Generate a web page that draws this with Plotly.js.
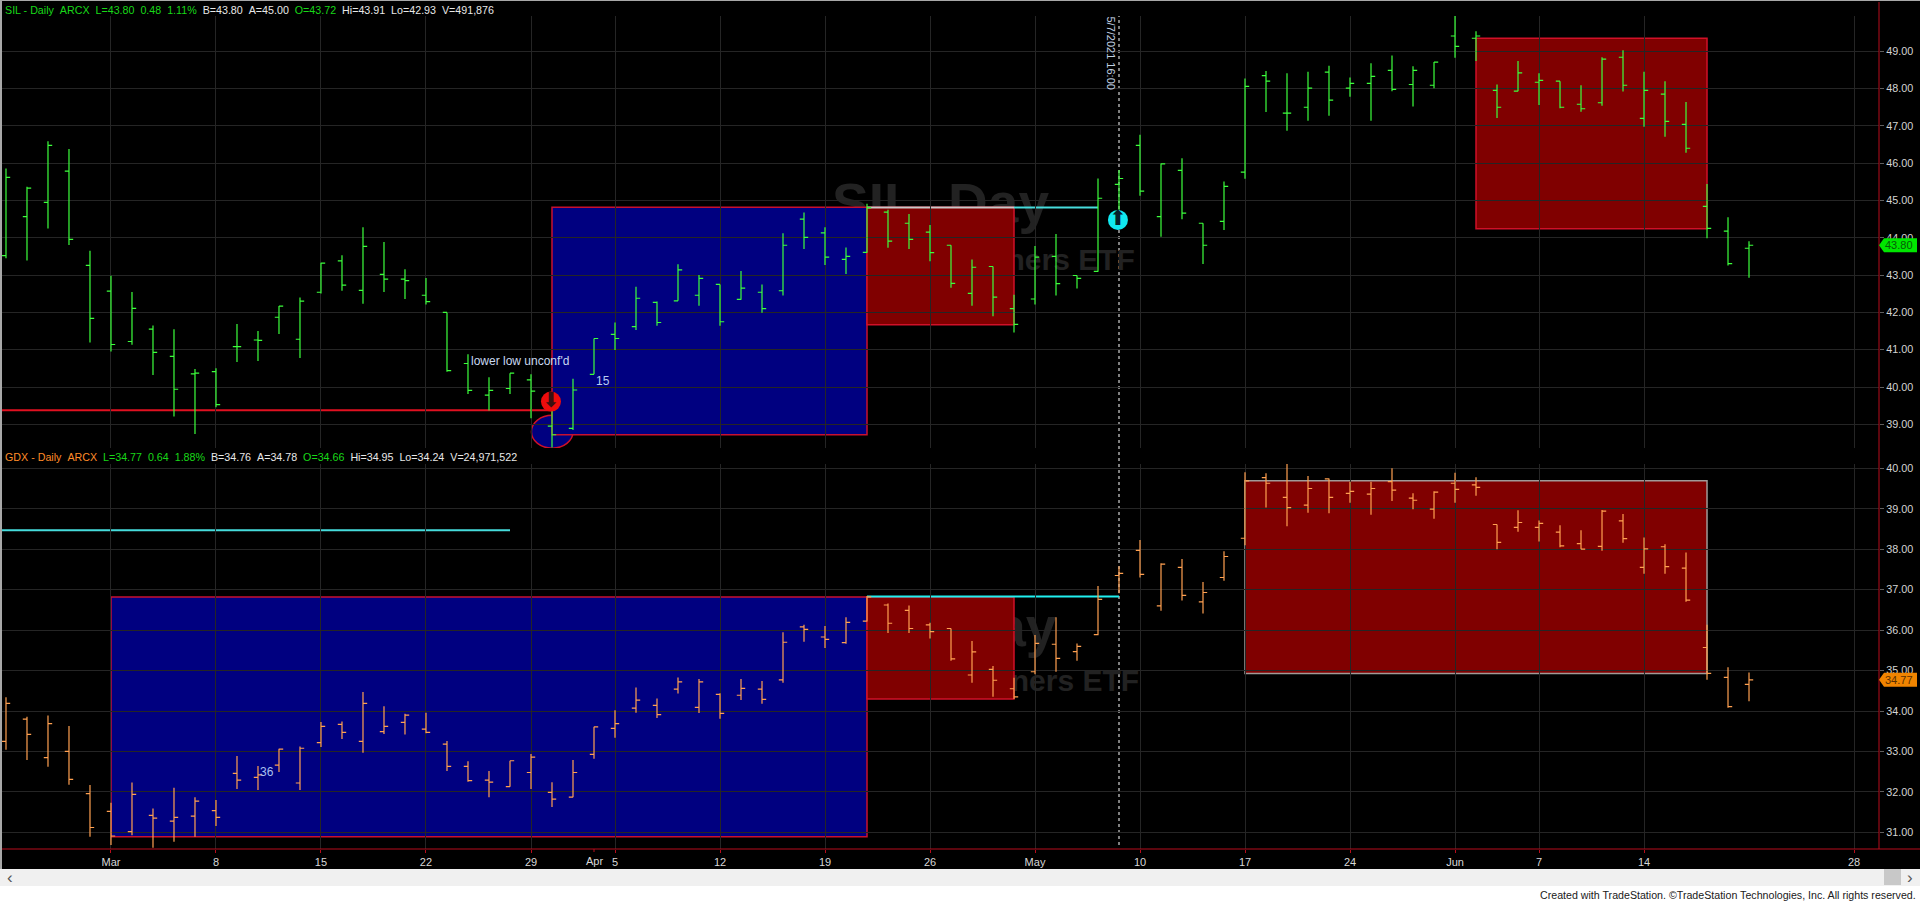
<!DOCTYPE html>
<html>
<head>
<meta charset="utf-8">
<script src="https://cdn.plot.ly/plotly-3.0.1.min.js"></script>
<style>html,body{margin:0;padding:0;background:#000;overflow:hidden}#chart{width:1920px;height:901px}</style>
</head>
<body>
<div id="chart"></div>
<script>
// Trading sessions shown on the axis (bars exist up to 2021-06-21)
const sessionDates = [
 '2021-02-22','2021-02-23','2021-02-24','2021-02-25','2021-02-26',
 '2021-03-01','2021-03-02','2021-03-03','2021-03-04','2021-03-05',
 '2021-03-08','2021-03-09','2021-03-10','2021-03-11','2021-03-12',
 '2021-03-15','2021-03-16','2021-03-17','2021-03-18','2021-03-19',
 '2021-03-22','2021-03-23','2021-03-24','2021-03-25','2021-03-26',
 '2021-03-29','2021-03-30','2021-03-31','2021-04-01','2021-04-05',
 '2021-04-06','2021-04-07','2021-04-08','2021-04-09','2021-04-12',
 '2021-04-13','2021-04-14','2021-04-15','2021-04-16','2021-04-19',
 '2021-04-20','2021-04-21','2021-04-22','2021-04-23','2021-04-26',
 '2021-04-27','2021-04-28','2021-04-29','2021-04-30','2021-05-03',
 '2021-05-04','2021-05-05','2021-05-06','2021-05-07','2021-05-10',
 '2021-05-11','2021-05-12','2021-05-13','2021-05-14','2021-05-17',
 '2021-05-18','2021-05-19','2021-05-20','2021-05-21','2021-05-24',
 '2021-05-25','2021-05-26','2021-05-27','2021-05-28','2021-06-01',
 '2021-06-02','2021-06-03','2021-06-04','2021-06-07','2021-06-08',
 '2021-06-09','2021-06-10','2021-06-11','2021-06-14','2021-06-15',
 '2021-06-16','2021-06-17','2021-06-18','2021-06-21','2021-06-22',
 '2021-06-23','2021-06-24','2021-06-25','2021-06-28'];

const silOpen = [43.52,44.57,44.95,45.79,43.26,
 42.57,41.22,41.55,40.82,40.35, 40.41,41.08,41.26,41.87,41.28,
 42.54,43.38,42.59,43.02,42.89, 42.46,42.00,40.63,39.78,39.96,
 40.19,38.95,38.89,40.34,41.41, 41.62,42.27,42.31,42.46,42.75,
 42.35,42.54,42.58,44.50,44.13, 43.42,43.61,44.69,44.39,44.15,
 43.80,42.51,43.23,42.10,42.36, 43.50,42.99,43.10,45.43,46.48,
 44.57,45.81,44.39,44.44,45.76, 48.35,47.34,47.50,48.44,48.01,
 48.14,48.49,48.11,48.09,49.41, 49.35,47.95,47.93,48.17,48.20,
 47.58,47.62,48.84,47.20,47.85, 47.04,44.84,44.18,43.72];
const silHigh = [45.86,45.37,46.59,46.38,43.65,
 42.98,42.55,41.65,41.55,40.48, 40.50,41.69,41.50,42.17,42.40,
 43.33,43.53,44.28,43.89,43.16, 42.92,42.00,40.88,40.26,40.37,
 40.34,39.61,40.22,41.30,41.73, 42.69,42.29,43.29,43.00,42.75,
 43.11,42.75,44.12,44.68,44.28, 43.74,44.91,44.75,44.64,44.34,
 43.80,43.42,43.23,42.47,43.78, 44.10,42.99,45.59,45.82,46.76,
 45.99,46.13,44.39,45.51,48.27, 48.47,48.41,48.45,48.61,48.30,
 48.68,48.89,48.60,48.71,49.95, 49.54,48.11,48.74,48.41,48.20,
 48.09,48.84,49.03,48.45,48.20, 47.64,45.44,44.55,43.91];
const silLow = [43.45,43.39,44.25,43.81,41.19,
 40.95,41.13,40.32,39.21,38.74, 39.46,40.67,40.70,41.42,40.78,
 42.51,42.58,42.23,42.55,42.36, 42.21,40.41,39.81,39.37,39.81,
 39.16,38.38,38.85,40.34,40.99, 41.53,41.64,42.31,42.18,41.64,
 42.34,41.99,42.45,43.70,43.27, 43.03,43.60,43.73,43.70,43.37,
 42.66,42.18,41.90,41.46,42.21, 42.45,42.64,43.09,44.70,45.13,
 44.03,44.50,43.30,44.21,45.58, 47.37,46.87,47.14,47.27,47.78,
 47.14,47.93,47.52,48.01,48.83, 48.74,47.21,47.93,47.56,47.47,
 47.38,47.54,47.92,46.98,46.71, 46.28,43.99,43.26,42.93];
const silClose = [45.62,45.33,46.48,43.96,41.84,
 41.14,42.11,40.93,39.94,40.37, 39.53,41.08,41.25,42.17,42.30,
 43.32,42.73,43.77,42.89,42.85, 42.29,40.44,39.91,39.91,40.37,
 39.89,38.72,39.92,41.30,41.30, 42.38,41.73,43.14,42.91,41.75,
 42.65,42.10,43.80,44.01,43.48, 43.50,44.81,43.91,43.96,43.60,
 42.78,43.21,42.41,41.68,43.48, 42.77,42.91,45.06,45.59,45.25,
 45.98,44.66,43.80,45.38,48.06, 48.20,47.34,48.01,47.69,48.14,
 48.33,47.98,48.49,48.71,49.13, 49.41,47.50,48.42,48.22,47.50,
 47.46,48.79,48.09,47.95,47.12, 46.40,44.25,43.31,43.80];

const gdxOpen = [33.25,33.80,32.85,33.00,31.96,
 31.52,31.02,31.42,31.28,31.40, 31.54,32.46,32.36,32.66,32.22,
 33.22,33.67,33.25,33.49,33.72, 33.55,33.18,32.63,32.29,32.13,
 32.48,31.99,31.87,32.93,33.57, 34.07,34.14,34.54,34.09,34.41,
 34.39,34.54,34.77,36.08,35.83, 35.69,36.22,36.62,36.49,36.13,
 36.04,34.89,35.03,34.55,34.97, 35.65,35.47,35.89,37.35,37.97,
 36.60,37.55,36.70,37.30,38.27, 39.77,39.28,39.09,39.74,39.38,
 39.36,39.67,39.26,38.99,39.63, 39.59,38.61,38.54,38.54,38.42,
 38.14,38.07,38.70,37.55,38.06, 37.53,35.57,34.83,34.66];
const gdxHigh = [34.34,33.86,33.89,33.63,32.17,
 31.73,32.23,31.59,32.10,31.87, 31.80,32.89,32.64,33.07,33.12,
 33.73,33.74,34.47,34.12,33.93, 33.96,33.26,32.76,32.52,32.77,
 32.94,32.24,32.79,33.61,34.02, 34.58,34.31,34.83,34.79,34.44,
 34.79,34.74,35.95,36.13,36.10, 36.32,36.84,36.66,36.61,36.18,
 36.04,35.73,35.11,34.82,35.88, 36.32,35.67,37.09,37.58,38.23,
 37.65,37.76,37.19,37.95,39.90, 39.88,40.12,39.81,39.75,39.67,
 39.67,40.00,39.38,39.43,39.89, 39.78,38.61,38.96,38.71,38.59,
 38.47,38.97,38.87,38.29,38.12, 37.92,36.13,35.08,34.95];
const gdxLow = [33.04,32.79,32.62,32.18,30.89,
 30.69,30.93,30.62,30.77,30.89, 31.16,32.07,32.05,32.49,32.05,
 33.11,33.31,32.97,33.43,33.42, 33.45,32.52,32.25,31.87,32.13,
 32.07,31.63,31.87,32.82,33.34, 33.96,33.83,34.43,33.95,33.81,
 34.27,34.18,34.70,35.71,35.56, 35.66,36.21,35.93,35.93,35.79,
 35.24,34.70,34.35,34.30,34.91, 34.97,35.24,35.87,36.91,37.30,
 36.48,36.73,36.41,37.22,38.10, 39.03,38.57,38.90,38.89,39.15,
 38.85,39.19,38.99,38.75,39.15, 39.32,38.00,38.43,38.19,38.05,
 38.00,37.96,38.16,37.39,37.39, 36.70,34.77,34.08,34.24];
const gdxClose = [34.19,33.42,33.69,32.31,31.12,
 30.91,31.94,31.35,31.37,31.77, 31.37,32.29,32.42,33.06,33.08,
 33.62,33.47,34.19,33.62,33.90, 33.47,32.63,32.28,32.24,32.77,
 32.86,31.82,32.48,33.61,33.69, 34.27,33.91,34.72,34.72,33.94,
 34.56,34.29,35.70,36.02,35.77, 36.19,36.82,36.17,36.04,35.96,
 35.29,35.46,34.76,34.35,35.67, 35.30,35.60,36.76,37.40,37.38,
 37.63,36.86,36.93,37.82,39.69, 39.63,39.03,39.50,39.28,39.43,
 39.50,39.46,39.21,39.41,39.48, 39.53,38.17,38.66,38.64,38.08,
 38.00,38.94,38.26,38.01,37.57, 36.74,34.93,34.11,34.77];

// Axis labels
const tickDates = ['2021-03-01','2021-03-08','2021-03-15','2021-03-22','2021-03-29','2021-04-05','2021-04-12','2021-04-19','2021-04-26','2021-05-03','2021-05-10','2021-05-17','2021-05-24','2021-06-01','2021-06-07','2021-06-14','2021-06-28'];
const tickLabels = ['Mar','8','15','22','29','5','12','19','26','May','10','17','24','Jun','7','14','28'];
const silTicks = [39,40,41,42,43,44,45,46,47,48,49];
const gdxTicks = [31,32,33,34,35,36,37,38,39,40];

// Header read-outs: [text, kind]
const silHeader = [['SIL - Daily','sym'],['ARCX','sym'],['L=43.80','up'],['0.48','up'],['1.11%','up'],['B=43.80','q'],['A=45.00','q'],['O=43.72','up'],['Hi=43.91','q'],['Lo=42.93','q'],['V=491,876','q']];
const gdxHeader = [['GDX - Daily','sym'],['ARCX','sym'],['L=34.77','up'],['0.64','up'],['1.88%','up'],['B=34.76','q'],['A=34.78','q'],['O=34.66','up'],['Hi=34.95','q'],['Lo=34.24','q'],['V=24,971,522','q']];

// Analysis levels
const silBoxes = [
 {from:'2021-03-30',to:'2021-04-21',top:44.82,bottom:38.72,fill:'#000080',edge:'#c81030'},
 {from:'2021-04-21',to:'2021-04-30',top:44.82,bottom:41.67,fill:'#800000',edge:'#d01028'},
 {from:'2021-06-02',to:'2021-06-17',top:49.35,bottom:44.24,fill:'#800000',edge:'#d01028'}];
const gdxBoxes = [
 {from:'2021-03-01',to:'2021-04-21',top:36.82,bottom:30.89,fill:'#000080',edge:'#c81030'},
 {from:'2021-04-21',to:'2021-04-30',top:36.82,bottom:34.30,fill:'#800000',edge:'#d01028'},
 {from:'2021-05-17',to:'2021-06-17',top:39.69,bottom:34.93,fill:'#800000',edge:'#a09a98'}];
const silSupport = 39.38, silBreakout = 44.81, gdxUpperLevel = 38.47, gdxBreakout = 36.83;
const lastSil = 43.80, lastGdx = 34.77;

const FONT = 'Liberation Sans, Arial, sans-serif';
const GREEN = '#3cff3c', ORANGE = '#ffa050', GRID = '#252525', AXIS = '#b80c1c';
const W = 1920, H = 901;
const at = d => sessionDates.indexOf(d);
const px = v => v / W;
const py = v => 1 - v / H;
const barIndex = silOpen.map((_, k) => k);
const xRange = [-0.19, 89.19];

const bars = (o, h, l, c, color, xa, ya) => ({
  type:'ohlc', x:barIndex, open:o, high:h, low:l, close:c, xaxis:xa, yaxis:ya, tickwidth:0.2,
  increasing:{line:{color, width:1.2}}, decreasing:{line:{color, width:1.2}}, hoverinfo:'skip', showlegend:false
});

const signal = (x, y, color, glyph, glyphColor) => ({
  type:'scatter', mode:'markers+text', x:[x], y:[y], xaxis:'x', yaxis:'y',
  marker:{size:20, color, line:{width:0}}, text:[glyph], textposition:'middle center',
  textfont:{family:'DejaVu Sans', size:21, color:glyphColor}, hoverinfo:'skip', showlegend:false
});

const rectShape = (b, xr, yr) => ({type:'rect', xref:xr, yref:yr, x0:at(b.from), x1:at(b.to), y0:b.bottom, y1:b.top,
  fillcolor:b.fill, line:{color:b.edge, width:1.5}, layer:'below'});
const hLine = (x0, x1, y, color, xr, yr, width) => ({type:'line', xref:xr, yref:yr, x0, x1, y0:y, y1:y, line:{color, width:width||2}, layer:'below'});

const wmark = (text, x0, x1, y0, y1, size, pos, anchor, xr, yr) => ({type:'rect', xref:xr, yref:yr, x0, x1, y0, y1, line:{width:0}, fillcolor:'rgba(0,0,0,0)', layer:'below',
  label:{text, textposition:pos, xanchor:anchor, padding:0, font:{family:FONT, size, color:'#222222', weight:700}}});

const paperRect = (x0, y0, x1, y1, color) => ({type:'rect', xref:'paper', yref:'paper', x0:px(x0), x1:px(x1), y0:py(y1), y1:py(y0), fillcolor:color, line:{width:0}, layer:'above'});

const tag = (value, yr, color) => ({type:'path', xref:'paper', yref:yr, xsizemode:'pixel', ysizemode:'pixel', xanchor:px(1879), yanchor:value,
  path:'M0,0 L5,-7 L38,-7 L38,7 L5,7 Z', fillcolor:color, line:{width:0}, layer:'above'});

const shapes = [
  // watermarks lie under the boxes
  wmark('SIL, Day', 26, 63, 43.68, 46.48, 55, 'middle center','middle','x','y'),
  wmark('Global X Silver Miners ETF', 26, 48.65+5.25, 43.0, 44.0, 30, 'middle right','right','x','y'),
  wmark('GDX, Day', 26, 62.1, 35.25, 37.15, 55, 'middle center','middle','x2','y2'),
  wmark('VanEck Vectors Gold Miners ETF', 26, 48.9+5.2, 34.34, 35.34, 30, 'middle right','right','x2','y2'),
  // session marker
  {type:'line', xref:'x', yref:'paper', x0:at('2021-05-07'), x1:at('2021-05-07'), y0:py(845), y1:py(16), line:{color:'#ffffff', width:1, dash:'3px,3px'}, layer:'below'},
  // ellipse under the first box
  {type:'circle', xref:'x', yref:'y', x0:at('2021-03-30')-0.98, x1:at('2021-03-30')+1.0, y0:38.36, y1:39.24, fillcolor:'#000080', line:{color:'#d01028', width:1.5}, layer:'below'},
  ...silBoxes.map(b => rectShape(b,'x','y')),
  ...gdxBoxes.map(b => rectShape(b,'x2','y2')),
  hLine(xRange[0], at('2021-03-30'), silSupport, '#e01020','x','y'),
  hLine(at('2021-04-21'), at('2021-04-30'), silBreakout, '#c8c8c8','x','y'),
  hLine(at('2021-04-30'), at('2021-05-06'), silBreakout, '#46dcdc','x','y'),
  hLine(xRange[0], at('2021-03-26'), gdxUpperLevel, '#46dcdc','x2','y2'),
  hLine(at('2021-04-21'), at('2021-05-07'), gdxBreakout, '#20f0f0','x2','y2'),
  // window frame
  paperRect(0,0,2,886,'#a8a8a8'),
  paperRect(0,0,1920,1,'#a8a8a8'),
  {type:'line', xref:'paper', yref:'paper', x0:px(1879), x1:px(1879), y0:py(849), y1:py(2), line:{color:AXIS, width:1}, layer:'above'},
  {type:'line', xref:'paper', yref:'paper', x0:px(2), x1:1, y0:py(849), y1:py(849), line:{color:AXIS, width:1}, layer:'above'},
  {type:'line', xref:'x2', yref:'paper', x0:at('2021-04-01'), x1:at('2021-04-01'), y0:py(849), y1:py(852), line:{color:AXIS, width:1}, layer:'above'},
  paperRect(0,869,1920,886,'#f0f0f0'),
  paperRect(0,886,1920,901,'#ffffff'),
  paperRect(1884,869,1901,885,'#c8c8c8'),
  tag(lastSil,'y','#00e600'),
  tag(lastGdx,'y2','#f08400')
];

const headerText = (segs, symColor) => segs.map(([t,k]) => {
  const c = k==='sym' ? symColor : k==='up' ? '#18d818' : '#e8e8e8';
  return `<span style="color:${c}">${t}</span>`;
}).join('\u00a0\u00a0');

const note = (text, x, y, color, size, extra) => Object.assign({
  text, xref:'paper', yref:'paper', x:px(x), y:py(y), showarrow:false, xanchor:'center', yanchor:'middle',
  font:{family:FONT, size:size||11, color}
}, extra||{});

const annotations = [
  note(headerText(silHeader,'#18d818'), 3, 10, '#18d818', 10.7, {xanchor:'left'}),
  note(headerText(gdxHeader,'#ff8c28'), 3, 457, '#ff8c28', 10.7, {xanchor:'left'}),
  note("lower low unconf'd", 520, 361, '#c8d8f0', 12),
  note('15', 603, 381, '#b8ccf0', 12),
  note('36', 266.5, 772, '#a8c0f0', 12),
  note('5/7/2021 16:00', 1110.5, 53, '#c0d0e0', 11, {textangle:90}),
  note('Apr', 594.5, 861, '#d8d8d8', 11),
  {text:lastSil.toFixed(2), xref:'paper', yref:'y', x:px(1899), xanchor:'center', y:lastSil, showarrow:false, font:{family:FONT, size:11, color:'#075a07'}},
  {text:lastGdx.toFixed(2), xref:'paper', yref:'y2', x:px(1899), xanchor:'center', y:lastGdx, showarrow:false, font:{family:FONT, size:11, color:'#5a3000'}},
  note('\u2039', 10, 877, '#555555', 17),
  note('\u203a', 1910, 877, '#555555', 17),
  note('Created with TradeStation. \u00a9TradeStation Technologies, Inc. All rights reserved.', 1918, 895, '#202020', 10.65, {xanchor:'right'})
];

const xBase = {range:xRange, tickmode:'array', tickvals:tickDates.map(at), showgrid:true, gridcolor:GRID, gridwidth:1, zeroline:false, showline:false, domain:[px(2), px(1879)], fixedrange:true, rangeslider:{visible:false}};
const yBase = {side:'right', showgrid:true, gridcolor:GRID, gridwidth:1, zeroline:false, showline:false, ticks:'outside', ticklen:4, tickcolor:'#606060', tickmode:'array', tickfont:{family:FONT, size:10.8, color:'#d4d4d4'}, fixedrange:true};

const layout = {
  width:W, height:H, autosize:false, margin:{l:0,r:0,t:0,b:0,pad:0},
  paper_bgcolor:'#000', plot_bgcolor:'#000', showlegend:false, hovermode:false,
  xaxis:Object.assign({}, xBase, {anchor:'y', showticklabels:false, ticks:''}),
  xaxis2:Object.assign({}, xBase, {anchor:'y2', ticktext:tickLabels, ticks:'outside', ticklen:3, tickcolor:AXIS, tickfont:{family:FONT, size:11, color:'#d8d8d8'}}),
  yaxis:Object.assign({}, yBase, {anchor:'x', domain:[py(448), py(16)], range:[38.365, 49.946], tickvals:silTicks, ticktext:silTicks.map(v=>v.toFixed(2))}),
  yaxis2:Object.assign({}, yBase, {anchor:'x2', domain:[py(849), py(464)], range:[30.589, 40.106], tickvals:gdxTicks, ticktext:gdxTicks.map(v=>v.toFixed(2))}),
  shapes, annotations
};

const traces = [
  bars(silOpen, silHigh, silLow, silClose, GREEN, 'x', 'y'),
  bars(gdxOpen, gdxHigh, gdxLow, gdxClose, ORANGE, 'x2', 'y2'),
  signal(at('2021-03-30')-0.05, 39.61, '#ee0c0c', '\u2B07', '#3a1010'),
  signal(at('2021-05-07')-0.05, 44.48, '#10e8f0', '\u2B06', '#06202a')
];

Plotly.newPlot('chart', traces, layout, {displayModeBar:false, staticPlot:true});
</script>
</body>
</html>
